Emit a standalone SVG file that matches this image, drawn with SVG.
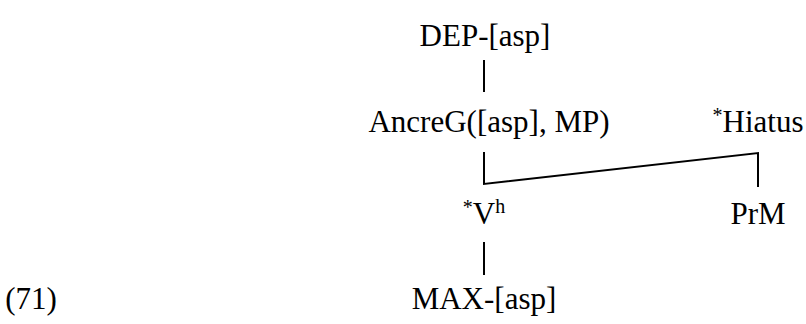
<svg xmlns="http://www.w3.org/2000/svg" width="806" height="324" viewBox="0 0 806 324">
<style>
text{font-family:"Liberation Serif","DejaVu Serif",serif;font-size:31px;fill:#000;text-anchor:middle}
.c{stroke:#000;stroke-width:2;fill:none}
.sup{font-size:20px}
</style>
<rect width="806" height="324" fill="#fff"/>
<g id="connectors">
<line class="c" x1="484" y1="60" x2="484" y2="92"/>
<polyline class="c" points="484,152 484,184 758,153 758,187"/>
<line class="c" x1="484" y1="242" x2="484" y2="275"/>
</g>
<g id="dep"><text x="485" y="46">DEP-[asp]</text></g>
<g id="ancre"><text x="489" y="132">AncreG([asp], MP)</text></g>
<g id="hiatus"><text x="758" y="132"><tspan class="sup" dy="-10">*</tspan><tspan dy="10">Hiatus</tspan></text></g>
<g id="vh"><text x="484" y="224"><tspan class="sup" dy="-10">*</tspan><tspan dy="10">V</tspan><tspan class="sup" dy="-11">h</tspan></text></g>
<g id="prm"><text x="758" y="224">PrM</text></g>
<g id="max"><text x="484" y="309">MAX-[asp]</text></g>
<g id="label"><text x="31" y="309" font-size="27">(71)</text></g>
</svg>
